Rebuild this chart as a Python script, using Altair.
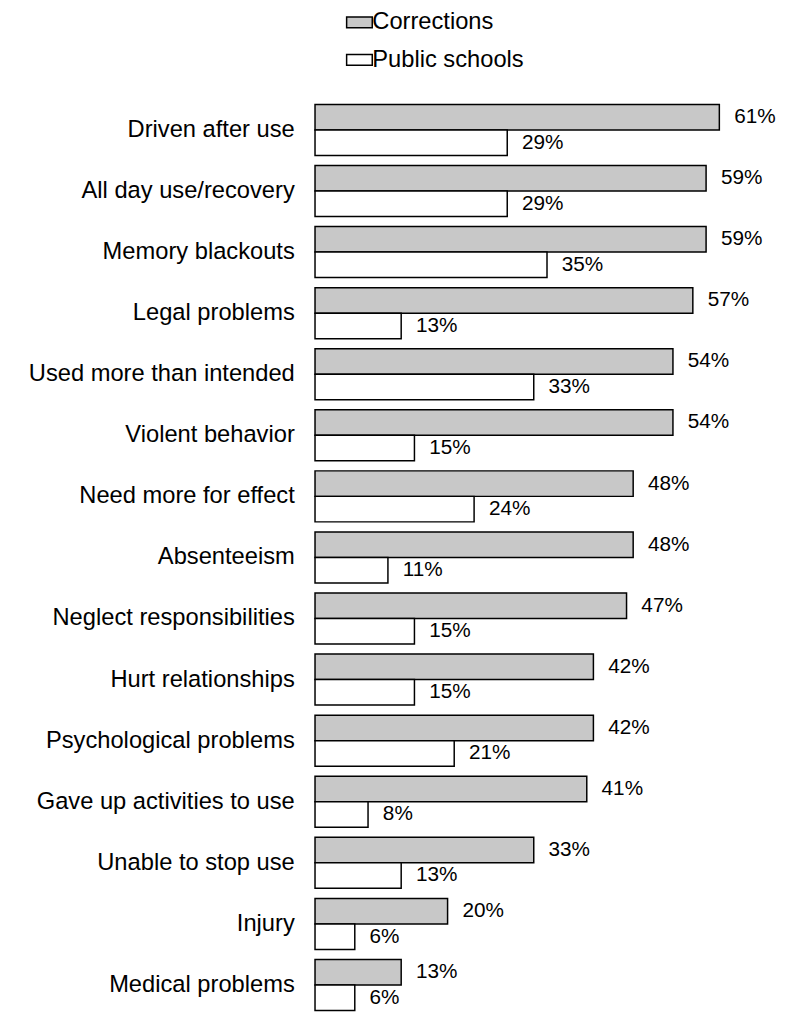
import altair as alt
import pandas as pd

categories = [
    "Driven after use",
    "All day use/recovery",
    "Memory blackouts",
    "Legal problems",
    "Used more than intended",
    "Violent behavior",
    "Need more for effect",
    "Absenteeism",
    "Neglect responsibilities",
    "Hurt relationships",
    "Psychological problems",
    "Gave up activities to use",
    "Unable to stop use",
    "Injury",
    "Medical problems",
]
corrections = [61, 59, 59, 57, 54, 54, 48, 48, 47, 42, 42, 41, 33, 20, 13]
public_schools = [29, 29, 35, 13, 33, 15, 24, 11, 15, 15, 21, 8, 13, 6, 6]
series = ["Corrections", "Public schools"]

rows = []
for c, a, b in zip(categories, corrections, public_schools):
    rows.append({"category": c, "series": series[0], "value": a})
    rows.append({"category": c, "series": series[1], "value": b})
df = pd.DataFrame(rows)
df["label"] = df["value"].astype(str) + "%"

FONT = "Liberation Sans"

y = alt.Y(
    "category:N",
    sort=categories,
    scale=alt.Scale(paddingInner=0.165, paddingOuter=0.0825),
    axis=alt.Axis(
        title=None, domain=False, ticks=False, labelFontSize=24, labelFont=FONT,
        labelColor="black", labelPadding=21, labelLimit=400,
    ),
)
yoff = alt.YOffset("series:N", sort=series)
x = alt.X("value:Q", scale=alt.Scale(domain=[0, 70]), axis=None)

bars = alt.Chart(df).mark_bar(stroke="black", strokeWidth=1.5).encode(
    y=y,
    yOffset=yoff,
    x=x,
    fill=alt.Fill(
        "series:N",
        sort=series,
        scale=alt.Scale(domain=series, range=["#c8c8c8", "#ffffff"]),
        legend=alt.Legend(
            title=None, orient="none", legendX=33, legendY=-90,
            symbolType="M-1.2,-0.5H1.2V0.5H-1.2Z", symbolSize=468,
            symbolStrokeColor="black", symbolStrokeWidth=1.5,
            labelFontSize=24, labelFont=FONT, labelColor="black",
            labelOffset=1, rowPadding=14, padding=0,
        ),
    ),
)

text = alt.Chart(df).mark_text(
    align="left", baseline="middle", dx=15, fontSize=21, font=FONT, color="black"
).encode(y=y, yOffset=yoff, x=x, text="label:N")

chart = (
    alt.layer(bars, text)
    .properties(
        width=470,
        height=928,
        padding={"left": 311, "top": 86, "right": 0, "bottom": 0},
        autosize=alt.AutoSizeParams(type="none"),
        background="white",
    )
    .configure_view(stroke=None)
)

chart.save("out.html", embed_options={"renderer": "svg", "actions": False})
